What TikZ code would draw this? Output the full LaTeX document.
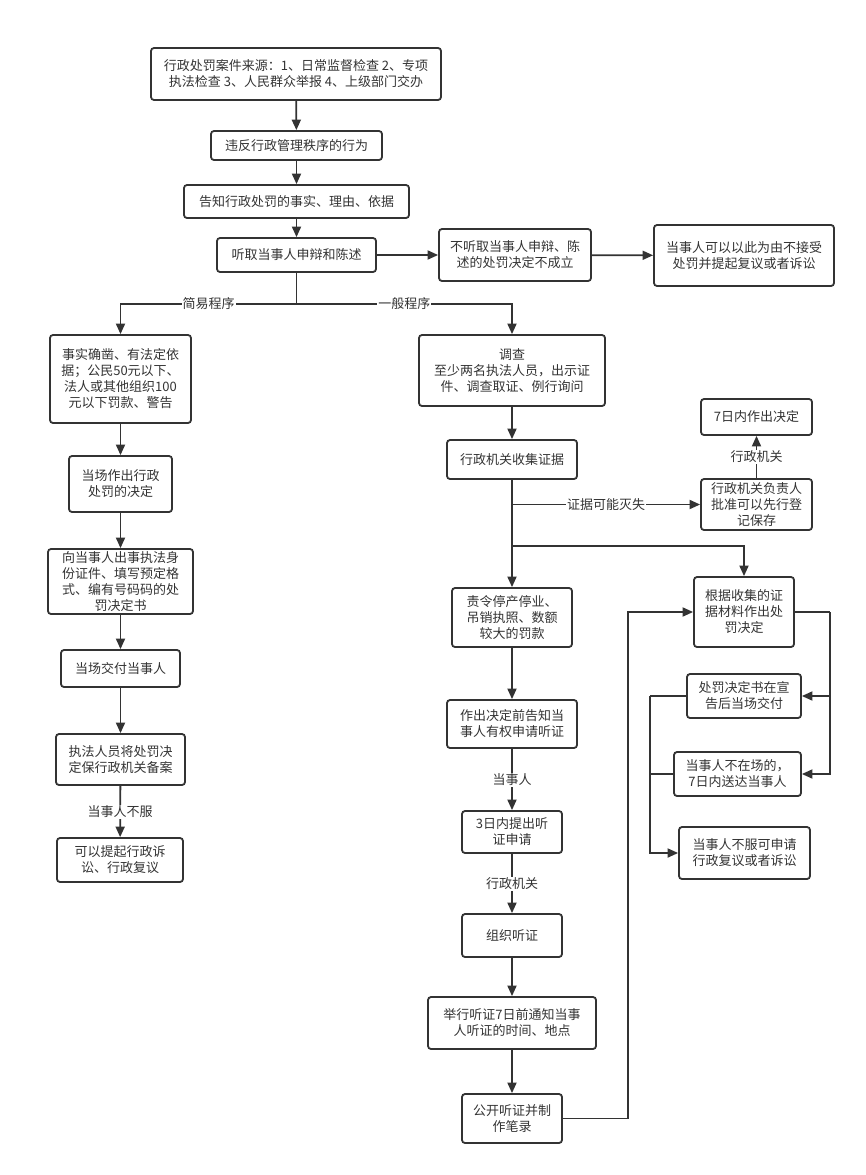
\documentclass[tikz,border=0pt]{standalone}
\usepackage{fontspec}
\setmainfont{Noto Sans CJK SC}
\usetikzlibrary{arrows.meta}
\definecolor{ink}{HTML}{333333}

\begin{document}
\begin{tikzpicture}[x=1pt, y=-1pt, ->, >={Triangle[length=10.5pt,width=9pt]}, line width=1.8pt, draw=ink, text=ink,
    box/.style={draw=ink, rounded corners=3pt, align=center, inner sep=1pt, font=\fontsize{13pt}{16pt}\selectfont},
    lbl/.style={fill=white, inner sep=1pt, font=\fontsize{13pt}{16pt}\selectfont}]
      \useasboundingbox (0,0) rectangle (866,1175);

      % Top chain
      \node[box, minimum width=290pt, minimum height=52pt] (source) at (296,74) {行政处罚案件来源：1、日常监督检查 2、专项\\执法检查 3、人民群众举报 4、上级部门交办};
      \node[box, minimum width=171pt, minimum height=29pt] (violate) at (296.5,145.5) {违反行政管理秩序的行为};
      \node[box, minimum width=225pt, minimum height=33pt] (inform) at (296.5,201.5) {告知行政处罚的事实、理由、依据};
      \node[box, minimum width=159pt, minimum height=34pt] (hear) at (296.5,255) {听取当事人申辩和陈述};
      \node[box, minimum width=152pt, minimum height=52pt] (nohear) at (515,255) {不听取当事人申辩、陈\\述的处罚决定不成立};
      \node[box, minimum width=180pt, minimum height=61pt] (reject) at (744,255.5) {当事人可以以此为由不接受\\处罚并提起复议或者诉讼};

      % Simple procedure (left column)
      \node[box, minimum width=141pt, minimum height=88pt] (simple) at (120.5,379) {事实确凿、有法定依\\据；公民50元以下、\\法人或其他组织100\\元以下罚款、警告};
      \node[box, minimum width=103pt, minimum height=56pt] (onsite) at (120.5,484) {当场作出行政\\处罚的决定};
      \node[box, minimum width=145pt, minimum height=65pt] (issue) at (120.5,581.5) {向当事人出事执法身\\份证件、填写预定格\\式、编有号码码的处\\罚决定书};
      \node[box, minimum width=119pt, minimum height=37pt] (hand) at (120.5,668.5) {当场交付当事人};
      \node[box, minimum width=129pt, minimum height=51pt] (record) at (120.5,759.5) {执法人员将处罚决\\定保行政机关备案};
      \node[box, minimum width=126pt, minimum height=44pt] (sue) at (120,860) {可以提起行政诉\\讼、行政复议};

      % General procedure (middle column)
      \node[box, minimum width=186pt, minimum height=71pt] (survey) at (512,370.5) {调查\\至少两名执法人员，出示证\\件、调查取证、例行询问};
      \node[box, minimum width=130pt, minimum height=39pt] (collect) at (512,459.5) {行政机关收集证据};
      \node[box, minimum width=120pt, minimum height=59pt] (order) at (512,617.5) {责令停产停业、\\吊销执照、数额\\较大的罚款};
      \node[box, minimum width=130pt, minimum height=48pt] (notice) at (512,724) {作出决定前告知当\\事人有权申请听证};
      \node[box, minimum width=100pt, minimum height=42pt] (apply) at (512,832) {3日内提出听\\证申请};
      \node[box, minimum width=100pt, minimum height=43pt] (organize) at (512,935.5) {组织听证};
      \node[box, minimum width=168pt, minimum height=52pt] (hold) at (512,1023) {举行听证7日前通知当事\\人听证的时间、地点};
      \node[box, minimum width=100pt, minimum height=49pt] (public) at (512,1118.5) {公开听证并制\\作笔录};

      % Right column
      \node[box, minimum width=111pt, minimum height=36pt] (within) at (756.5,417) {7日内作出决定};
      \node[box, minimum width=111pt, minimum height=51pt] (approve) at (756.5,504.5) {行政机关负责人\\批准可以先行登\\记保存};
      \node[box, minimum width=100pt, minimum height=70pt] (decide) at (744,612) {根据收集的证\\据材料作出处\\罚决定};
      \node[box, minimum width=114pt, minimum height=44pt] (announce) at (744,696) {处罚决定书在宣\\告后当场交付};
      \node[box, minimum width=127pt, minimum height=44pt] (absent) at (737.5,774) {当事人不在场的，\\7日内送达当事人};
      \node[box, minimum width=131pt, minimum height=52pt] (object) at (744.5,853) {当事人不服可申请\\行政复议或者诉讼};

      % Top connectors
      \draw (source) -- (violate);
      \draw (violate) -- (inform);
      \draw (inform) -- (hear);
      \draw (hear) -- (nohear);
      \draw (nohear) -- (reject);
      \coordinate (split) at (296.5,304);
      \draw[-] (hear) -- (split);
      \draw (split) -| node[lbl, pos=0.25] {简易程序} (simple);
      \draw (split) -| node[lbl, pos=0.25] {一般程序} (survey);

      % Left column connectors
      \draw (simple) -- (onsite);
      \draw (onsite) -- (issue);
      \draw (issue) -- (hand);
      \draw (hand) -- (record);
      \draw (record) -- node[lbl] {当事人不服} (sue);

      % Middle column connectors
      \draw (survey) -- (collect);
      \coordinate (lost) at (collect.south |- approve.west);
      \draw (lost) -- node[lbl] {证据可能灭失} (approve);
      \draw (approve) -- node[lbl] {行政机关} (within);
      \draw (collect) -- (order);
      \coordinate (fork) at (512,546);
      \draw (fork) -| (decide);
      \draw (order) -- (notice);
      \draw (notice) -- node[lbl] {当事人} (apply);
      \draw (apply) -- node[lbl] {行政机关} (organize);
      \draw (organize) -- (hold);
      \draw (hold) -- (public);
      \coordinate (back) at (628,1118.5);
      \draw (public) -- (back) |- (decide);

      % Decision outcomes
      \coordinate (rgt) at (830,612);
      \draw[-] (decide) -- (rgt);
      \draw (rgt) |- (announce);
      \draw (rgt) |- (absent);
      \coordinate (lft) at (650,696);
      \draw[-] (announce) -- (lft);
      \draw (lft) |- (object);
      \draw[-] (absent) -- (absent.west -| lft);
    \end{tikzpicture}
\end{document}
